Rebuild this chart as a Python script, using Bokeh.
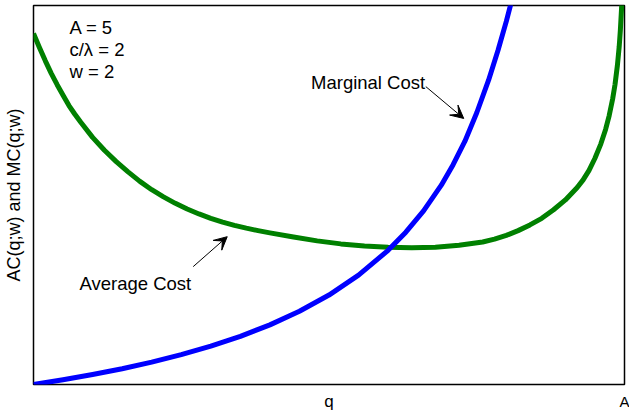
from bokeh.plotting import figure
from bokeh.models import Label, Arrow, VeeHead, FixedTicker, Range1d
from bokeh.embed import file_html
from bokeh.resources import INLINE

# ---- data ----
# Average cost curve
q_ac = [0.00, 0.05, 0.10, 0.15, 0.20, 0.25, 0.30, 0.35, 0.40,
        0.50, 0.60, 0.70, 0.80, 0.90, 1.00, 1.10, 1.20, 1.30, 1.40, 1.50,
        1.60, 1.70, 1.80, 1.90,
        2.00, 2.20, 2.40, 2.60, 2.80, 3.00, 3.20, 3.40, 3.60, 3.80,
        3.90, 4.00, 4.10, 4.20, 4.30, 4.40, 4.50, 4.60,
        4.65, 4.70, 4.75, 4.80, 4.84, 4.87, 4.90, 4.92, 4.94, 4.955, 4.965,
        4.975, 4.985]
ac_values = [9.26, 8.89, 8.54, 8.21, 7.91, 7.63, 7.36, 7.13, 6.92,
             6.52, 6.18, 5.88, 5.61, 5.36, 5.14, 4.95, 4.78, 4.63, 4.50, 4.385,
             4.285, 4.20, 4.125, 4.06,
             4.00, 3.89, 3.79, 3.71, 3.655, 3.62, 3.605, 3.62, 3.675, 3.76,
             3.835, 3.935, 4.06, 4.21, 4.385, 4.61, 4.87, 5.20,
             5.40, 5.65, 5.97, 6.35, 6.73, 7.09, 7.54, 7.92, 8.42, 8.91, 9.35,
             9.92, 10.8]

# Marginal cost curve
q_mc = [0.00, 0.25, 0.50, 0.75, 1.00, 1.25, 1.50, 1.75, 2.00, 2.25, 2.50,
        2.75, 3.00, 3.15, 3.30, 3.45, 3.55, 3.65, 3.75, 3.85, 3.93, 4.00, 4.06]
mc_values = [0.00, 0.124, 0.262, 0.416, 0.59, 0.787, 1.011, 1.271, 1.573,
             1.931, 2.36, 2.884, 3.54, 4.02, 4.58, 5.26, 5.80, 6.42, 7.17,
             8.03, 8.82, 9.58, 10.3]

param_lines = ["A = 5", "c/\u03bb = 2", "w = 2"]
param_y = [9.42, 8.84, 8.26]
x_tick_values = [5]
x_tick_labels = ["A"]
x_title = "q"
y_title = "AC(q;w) and MC(q;w)"

FONT = "Liberation Sans"

p = figure(width=629, height=416, output_backend="svg", toolbar_location=None,
           x_range=Range1d(0, 5), y_range=Range1d(0, 10),
           min_border_left=32, min_border_right=5, min_border_top=5,
           min_border_bottom=32)

p.background_fill_color = "white"
p.border_fill_color = "white"
p.outline_line_color = "black"
p.outline_line_width = 1.5
p.xgrid.visible = False
p.ygrid.visible = False

# x axis: single tick label "A" at the right end, title "q" on the same row
ax = p.xaxis[0]
ax.ticker = FixedTicker(ticks=x_tick_values)
ax.major_label_overrides = {t: l for t, l in zip(x_tick_values, x_tick_labels)}
ax.axis_line_color = None
ax.major_tick_line_color = None
ax.minor_tick_line_color = None
ax.major_tick_out = 0
ax.major_tick_in = 0
ax.minor_tick_out = 0
ax.minor_tick_in = 0
ax.major_label_standoff = 8
ax.major_label_text_font = FONT
ax.major_label_text_font_size = "15px"
ax.major_label_text_color = "black"
ax.axis_label = x_title
ax.axis_label_text_font = FONT
ax.axis_label_text_font_size = "17px"
ax.axis_label_text_font_style = "normal"
ax.axis_label_text_color = "black"
ax.axis_label_standoff = -21

# y axis: no ticks, only the title
ay = p.yaxis[0]
ay.ticker = FixedTicker(ticks=[])
ay.axis_line_color = None
ay.major_tick_line_color = None
ay.minor_tick_line_color = None
ay.major_tick_out = 0
ay.major_tick_in = 0
ay.minor_tick_out = 0
ay.minor_tick_in = 0
ay.major_label_standoff = 0
ay.axis_label = y_title
ay.axis_label_text_font = FONT
ay.axis_label_text_font_size = "18px"
ay.axis_label_text_font_style = "normal"
ay.axis_label_text_color = "black"
ay.axis_label_standoff = 10

p.line(q_ac, ac_values, line_color="#008000", line_width=5, line_join="round")
p.line(q_mc, mc_values, line_color="#0000ff", line_width=5, line_join="round")

def lab(x, y, text, size="18.5px", **kw):
    p.add_layout(Label(x=x, y=y, text=text, text_font=FONT, text_font_size=size,
                       text_color="black", **kw))

for t, yy in zip(param_lines, param_y):
    lab(0.304, yy, t, text_baseline="alphabetic", text_align="left")

lab(2.348, 7.98, "Marginal Cost", text_baseline="alphabetic", text_align="left")
lab(0.389, 2.66, "Average Cost", text_baseline="alphabetic", text_align="left")

p.add_layout(Arrow(end=VeeHead(size=13, fill_color="black", line_color="black", line_width=1),
                   x_start=3.319, y_start=7.86, x_end=3.640, y_end=7.02,
                   line_width=1, line_color="black"))
p.add_layout(Arrow(end=VeeHead(size=13, fill_color="black", line_color="black", line_width=1),
                   x_start=1.351, y_start=3.11, x_end=1.639, y_end=3.90,
                   line_width=1, line_color="black"))

open("out.html", "w").write(file_html(p, INLINE))
